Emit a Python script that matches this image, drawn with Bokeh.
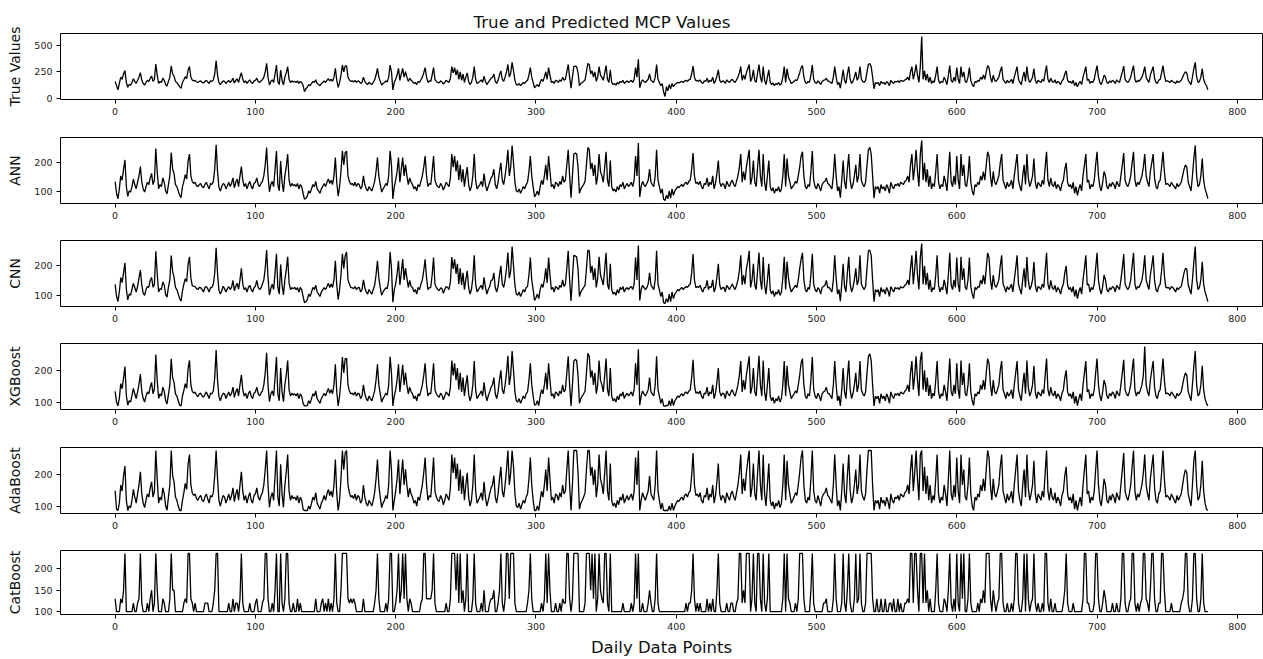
from bokeh.plotting import figure
from bokeh.layouts import column
from bokeh.models import FixedTicker
from bokeh.embed import file_html
from bokeh.resources import INLINE

true_values = [
160,120,80,140,200,180,230,262,150,105,130,125,150,185,160,140,170,200,243,170,
140,125,150,170,160,190,211,160,180,325,220,140,160,150,190,170,130,117,160,200,
306,230,210,160,150,130,110,95,150,175,205,185,268,300,200,173,165,170,155,150,
160,165,150,145,160,170,155,140,165,160,175,230,356,220,148,130,150,165,160,140,
155,170,150,165,190,145,170,185,150,200,243,180,150,165,140,160,175,150,140,165,
170,190,160,150,165,175,200,250,331,200,126,160,175,150,230,315,160,130,268,170,
126,200,243,300,180,150,165,155,160,150,165,140,160,150,120,63,90,104,130,120,
140,160,150,175,140,130,120,140,150,165,150,170,185,165,180,160,200,284,170,104,
150,220,315,250,306,306,200,175,160,165,155,170,150,165,160,140,150,200,160,140,
130,150,140,130,150,175,220,284,200,160,125,140,150,165,155,200,315,250,79,150,
180,220,284,170,230,284,200,252,200,160,190,170,160,140,150,130,160,150,175,200,
240,290,200,150,165,160,220,290,180,160,150,145,165,155,135,150,170,160,150,190,
300,240,290,220,270,180,250,170,230,150,200,240,160,130,150,200,300,180,140,150,
160,175,150,210,160,130,150,170,190,200,230,160,140,170,220,260,180,160,200,250,
320,200,240,340,260,170,130,125,140,120,135,150,140,160,170,220,290,200,150,100,
115,130,110,150,180,160,200,250,180,290,220,150,160,140,170,165,150,175,160,200,
170,180,250,320,200,95,200,300,305,300,240,120,140,150,160,175,250,330,320,230,
260,200,250,160,200,300,220,200,170,240,310,180,150,270,150,130,140,125,150,135,
160,150,170,140,155,165,150,160,170,150,180,290,200,370,100,150,175,160,150,165,
180,230,170,160,150,200,320,180,150,120,140,60,17,110,70,130,90,140,110,130,
140,150,145,155,160,150,165,170,160,175,180,230,305,200,165,170,160,175,150,140,
165,160,190,150,170,160,200,140,165,210,270,170,150,165,160,140,175,160,150,170,
180,160,150,175,200,240,300,170,220,180,240,280,320,160,190,270,170,150,240,320,
200,150,300,170,130,200,270,150,130,145,120,140,130,150,125,140,200,300,150,280,
200,170,140,150,160,175,165,200,240,290,310,200,150,140,160,150,220,315,180,150,
140,165,150,130,160,170,175,190,165,160,150,140,200,300,200,130,150,95,180,270,
170,140,230,300,180,140,160,200,250,170,200,300,180,160,150,170,250,320,330,300,
200,90,150,140,150,120,160,140,150,130,160,145,120,170,150,140,160,155,165,150,
170,165,160,175,180,200,170,250,300,180,240,320,220,150,300,585,180,260,170,230,
150,200,140,165,150,220,300,170,140,160,150,200,170,130,220,310,170,150,200,160,
290,180,140,300,200,250,160,150,200,290,170,130,110,160,150,170,160,200,180,220,
180,250,310,290,200,150,220,170,160,180,200,260,300,180,160,140,170,150,160,180,
140,200,250,300,180,150,130,200,250,160,300,190,150,170,200,280,170,140,170,160,
150,180,160,240,310,180,150,190,160,150,175,140,160,150,130,165,180,230,260,170,
150,160,140,170,120,150,110,140,160,130,200,250,300,170,180,140,160,150,180,250,
310,200,150,130,170,220,200,150,140,165,150,170,160,140,175,160,150,200,250,305,
180,160,150,170,200,260,310,180,150,170,160,180,200,240,300,200,170,150,220,260,
300,190,150,140,170,180,240,310,220,160,165,160,150,170,160,150,140,165,150,160,
170,200,230,250,240,170,150,130,200,280,340,200,150,160,200,280,180,140,120,80]

ann = [
135,95,76,110,155,140,178,210,118,84,103,99,118,144,125,110,133,155,187,133,
110,99,118,133,125,148,163,125,140,249,170,110,125,118,148,133,103,93,125,155,
235,178,163,125,118,103,88,80,118,136,159,144,206,230,155,135,129,133,121,118,
125,129,118,114,125,133,121,110,129,125,136,178,262,170,116,103,118,129,125,110,
121,133,118,129,148,114,133,144,118,155,187,140,118,129,110,125,136,118,110,129,
133,148,125,118,129,136,155,193,253,155,100,125,136,118,178,241,125,103,206,133,
100,155,187,230,140,118,129,121,125,118,129,110,125,118,95,74,78,85,103,95,
110,125,118,136,110,103,95,110,118,129,118,133,144,129,140,125,155,218,133,85,
118,170,241,193,235,240,155,136,125,129,121,133,118,129,125,110,118,155,125,110,
103,118,110,103,118,136,170,218,155,125,99,110,118,129,121,155,241,193,75,118,
140,170,218,133,178,218,155,194,155,125,148,133,125,110,118,103,125,118,136,155,
185,223,155,118,129,125,170,223,140,125,118,114,129,121,106,118,133,125,118,148,
230,185,223,170,208,140,193,133,178,118,155,185,125,103,118,155,230,140,110,118,
125,136,118,163,125,103,118,133,148,155,178,125,110,133,170,200,140,125,155,193,
245,155,185,260,200,133,103,99,110,95,106,118,110,125,133,170,223,155,118,82,
91,103,88,118,140,125,155,193,140,223,170,118,125,110,133,129,118,136,125,155,
133,140,193,245,155,80,155,230,234,230,185,95,110,118,125,136,193,253,245,178,
200,155,193,125,155,230,170,155,133,185,238,140,118,208,118,103,110,99,118,106,
125,118,133,110,121,129,118,125,133,118,140,223,155,268,82,118,136,125,118,129,
140,178,133,125,118,155,245,140,118,95,110,74,70,88,76,103,78,110,88,103,
110,118,114,121,125,118,129,133,125,136,140,178,234,155,129,133,125,136,118,110,
129,125,148,118,133,125,155,110,129,163,208,133,118,129,125,110,136,125,118,133,
140,125,118,136,155,185,230,133,170,140,185,215,245,125,148,208,133,118,185,245,
155,118,230,133,103,155,208,118,103,114,95,110,103,118,99,110,155,230,118,215,
155,133,110,118,125,136,129,155,185,223,238,155,118,110,125,118,170,241,140,118,
110,129,118,103,125,133,136,148,129,125,118,110,155,230,155,103,118,80,140,208,
133,110,178,230,140,110,125,155,193,133,155,230,140,125,118,133,193,245,253,230,
155,78,118,110,118,95,125,110,118,103,125,114,95,133,118,110,125,121,129,118,
133,129,125,136,140,155,133,193,230,140,185,245,170,118,230,277,140,200,133,178,
118,155,110,129,118,170,230,133,110,125,118,155,133,103,170,238,133,118,155,125,
223,140,110,230,155,193,125,118,155,223,133,103,88,125,118,133,125,155,140,170,
140,193,238,223,155,118,170,133,125,140,155,200,230,140,125,110,133,118,125,140,
110,155,193,230,140,118,103,155,193,125,230,148,118,133,155,215,133,110,133,125,
118,140,125,185,238,140,118,148,125,118,136,110,125,118,103,129,140,178,200,133,
118,125,110,133,95,118,88,110,125,103,155,193,230,133,140,110,125,118,140,193,
238,155,118,103,133,170,155,118,110,129,118,133,125,110,136,125,118,155,193,234,
140,125,118,133,155,200,238,140,118,133,125,140,155,185,230,155,133,118,170,200,
230,148,118,110,133,140,185,238,170,125,129,125,118,133,125,118,110,129,118,125,
133,155,178,193,185,133,118,103,155,215,260,155,118,125,155,215,140,110,95,76]

cnn = [
137,98,80,112,160,143,175,208,121,86,105,101,121,140,127,112,130,158,184,135,
108,101,120,130,127,150,160,128,138,246,172,112,123,120,145,135,105,95,128,152,
232,180,160,127,120,105,90,82,116,138,156,146,203,228,158,132,131,130,123,120,
127,126,120,112,127,130,123,112,126,127,138,175,258,172,118,105,116,131,123,112,
123,130,120,127,150,116,131,141,121,152,190,138,120,126,112,127,134,120,112,126,
131,150,127,120,126,138,152,190,250,158,102,123,138,120,175,238,127,105,203,135,
102,152,185,228,142,120,126,123,127,120,126,112,127,120,97,77,80,87,105,97,
112,127,120,134,112,105,97,112,120,126,120,130,141,127,138,127,152,215,135,87,
120,168,238,190,232,244,152,138,127,126,123,130,120,126,127,112,120,152,127,112,
105,120,112,105,120,134,168,215,158,127,101,112,120,126,123,152,244,190,78,120,
138,172,215,135,175,221,152,191,158,127,150,130,127,112,120,105,127,120,138,152,
182,220,158,120,126,127,168,226,138,127,120,116,126,123,108,120,130,127,120,145,
227,188,220,172,205,138,190,135,175,120,152,182,127,105,120,158,233,138,112,120,
127,134,120,160,127,105,120,130,150,152,175,127,112,130,168,198,138,127,152,190,
242,158,182,262,198,135,105,101,112,97,108,120,112,127,130,168,226,152,120,84,
93,105,90,120,138,127,152,190,142,226,168,120,127,112,130,126,120,134,127,152,
130,138,190,248,152,82,158,233,231,228,188,97,112,120,127,134,190,250,248,175,
198,152,190,127,158,228,168,152,135,188,241,138,120,205,120,105,112,101,120,108,
127,120,130,112,123,126,120,127,130,120,138,226,152,265,84,120,134,127,120,126,
138,175,135,127,120,152,248,138,120,97,112,77,74,90,78,105,80,112,90,105,
112,120,116,123,127,120,126,130,127,134,138,175,237,152,126,130,127,134,120,112,
126,127,150,120,130,127,152,112,126,160,205,135,120,126,127,112,134,127,120,130,
138,127,120,134,152,182,233,135,168,138,188,212,248,127,150,205,135,120,182,242,
152,120,227,135,105,152,205,120,105,116,97,112,105,120,101,112,158,228,120,212,
158,130,112,120,127,134,126,152,188,220,241,152,120,112,127,120,168,238,138,120,
112,126,120,105,127,130,134,150,126,127,120,112,152,233,158,105,120,82,138,205,
130,112,175,228,138,112,127,152,190,135,152,233,138,127,120,130,190,248,250,232,
152,80,120,112,120,97,127,112,120,105,127,116,97,130,120,112,127,123,126,120,
130,126,127,134,138,152,135,190,233,138,188,248,168,120,227,272,138,198,135,175,
120,152,112,126,120,168,233,135,112,127,120,152,130,105,168,241,135,120,152,127,
226,138,112,228,152,190,127,120,152,226,130,105,90,127,120,130,127,152,138,168,
138,190,241,226,152,120,168,135,127,138,152,198,233,138,127,112,130,120,127,138,
112,152,190,233,138,120,105,152,190,127,227,150,120,130,152,212,135,112,130,127,
120,138,127,182,241,138,120,150,127,120,134,112,127,120,105,126,138,175,198,135,
120,127,112,130,97,120,90,112,127,105,152,190,233,135,138,112,127,120,138,190,
241,152,120,105,130,168,152,120,112,126,120,130,127,112,134,127,120,152,190,237,
138,127,120,130,152,198,241,138,120,130,127,138,152,182,233,152,135,120,168,198,
233,150,120,112,130,138,182,241,168,127,126,127,120,130,127,120,112,126,120,127,
130,152,175,190,188,135,120,105,152,212,262,152,120,127,152,212,138,112,97,80]

xgboost = [
134,100,88,112,158,142,176,212,120,90,104,100,120,143,126,111,132,156,188,134,
111,100,119,132,126,147,162,126,141,250,168,111,126,119,147,134,104,94,124,154,
236,176,162,126,119,104,90,88,119,137,158,143,205,231,154,134,128,132,122,117,
126,128,119,115,124,132,122,111,128,126,135,177,264,169,117,104,119,128,126,111,
122,132,119,128,147,115,132,143,119,154,186,139,119,128,111,126,135,119,111,128,
132,147,126,119,128,135,154,192,255,154,101,126,135,119,177,242,124,104,207,132,
101,154,186,231,139,119,128,122,126,119,128,111,126,119,96,88,88,89,104,96,
111,126,119,135,111,104,96,111,119,128,119,132,143,128,139,126,154,219,132,88,
119,169,242,192,236,238,154,135,126,128,122,132,119,128,126,111,119,154,126,111,
104,119,111,104,119,135,169,219,154,126,100,111,119,128,122,154,243,192,88,119,
139,169,219,132,177,217,154,193,154,126,147,132,126,111,119,104,126,119,135,154,
184,222,154,119,128,126,169,222,139,126,119,115,128,122,107,119,132,126,119,147,
231,184,222,169,207,139,192,132,177,119,154,184,126,104,119,154,229,139,111,119,
126,135,119,162,126,104,119,132,147,154,177,126,111,132,169,200,139,126,154,192,
246,154,184,261,200,132,104,100,111,96,107,119,111,126,132,169,222,154,119,90,
92,104,89,119,139,126,154,192,139,222,169,119,126,111,132,128,119,135,126,154,
132,139,192,244,154,88,154,229,235,231,184,96,111,119,126,135,192,254,244,177,
200,154,192,126,154,231,169,154,132,184,237,139,119,207,119,104,111,100,119,107,
126,119,132,111,122,128,119,126,132,119,139,222,154,266,90,119,135,126,119,128,
139,177,132,126,119,154,244,139,119,96,111,88,86,90,88,104,88,111,89,104,
111,119,115,122,126,119,128,132,126,135,139,177,233,154,128,132,126,135,119,111,
128,126,147,119,132,126,154,111,128,162,207,132,119,128,126,111,135,126,119,132,
139,126,119,135,154,184,229,132,169,139,184,214,244,126,147,207,132,119,184,246,
154,119,231,132,104,154,207,119,104,115,96,111,104,119,100,111,154,229,119,214,
154,132,111,119,126,135,128,154,184,222,237,154,119,111,126,119,169,242,139,119,
111,128,119,104,126,132,135,147,128,126,119,111,154,229,154,104,119,88,139,207,
132,111,177,231,139,111,126,154,192,132,154,229,139,126,119,132,192,244,252,231,
154,88,119,111,119,96,126,111,119,104,126,115,96,132,119,111,126,122,128,119,
132,128,126,135,139,154,132,192,229,139,184,244,169,119,231,258,139,200,132,177,
119,154,111,128,119,169,229,132,111,126,119,154,132,104,169,237,132,119,154,126,
222,139,111,231,154,192,126,119,154,222,132,104,89,126,119,132,126,154,139,169,
139,192,237,222,154,119,169,132,126,139,154,200,229,139,126,111,132,119,126,139,
111,154,192,229,139,119,104,154,192,126,231,147,119,132,154,214,132,111,132,126,
119,139,126,184,237,139,119,147,126,119,135,111,126,119,104,128,139,177,200,132,
119,126,111,132,96,119,89,111,126,104,154,192,229,132,139,111,126,119,139,192,
237,154,119,104,132,169,154,119,111,128,119,132,126,111,135,126,119,154,192,233,
139,126,119,132,154,200,237,139,119,132,126,139,154,184,275,154,132,119,169,200,
229,147,119,111,132,139,184,237,169,126,128,126,119,132,126,119,111,128,119,126,
132,154,177,192,184,132,119,104,154,214,261,154,119,126,154,214,139,111,96,88]

adaboost = [
150,92,88,111,168,149,197,227,120,88,102,97,120,154,130,111,140,168,209,140,
111,97,120,140,130,159,178,130,149,276,187,111,130,120,159,140,102,89,130,168,
276,197,178,130,120,102,88,88,120,144,173,154,233,263,168,142,135,140,125,120,
130,135,120,116,130,140,125,111,135,130,144,197,276,187,119,102,120,135,130,111,
125,140,120,135,159,116,140,154,120,168,209,149,120,135,111,130,144,120,111,135,
140,159,130,120,135,144,168,216,276,168,98,130,144,120,197,276,130,102,233,140,
98,168,209,263,149,120,135,125,130,120,135,111,130,120,92,88,88,88,102,92,
111,130,120,144,111,102,92,111,120,135,120,140,154,135,149,130,168,248,140,88,
120,187,276,216,269,276,168,144,130,135,125,140,120,135,130,111,120,168,130,111,
102,120,111,102,120,144,187,248,168,130,97,111,120,135,125,168,276,216,88,120,
149,187,248,140,197,248,168,217,168,130,159,140,130,111,120,102,130,120,144,168,
206,254,168,120,135,130,187,254,149,130,120,116,135,125,106,120,140,130,120,159,
263,206,254,187,235,149,216,140,197,120,168,206,130,102,120,168,263,149,111,120,
130,144,120,178,130,102,120,140,159,168,197,130,111,140,187,225,149,130,168,216,
276,168,206,276,225,140,102,97,111,92,106,120,111,130,140,187,254,168,120,88,
88,102,88,120,149,130,168,216,149,254,187,120,130,111,140,135,120,144,130,168,
140,149,216,276,168,88,168,276,276,276,206,92,111,120,130,144,216,276,276,197,
225,168,216,130,168,263,187,168,140,206,276,149,120,235,120,102,111,97,120,106,
130,120,140,111,125,135,120,130,140,120,149,254,168,276,88,120,144,130,120,135,
149,197,140,130,120,168,276,149,120,92,111,88,88,88,88,102,88,111,88,102,
111,120,116,125,130,120,135,140,130,144,149,197,268,168,135,140,130,144,120,111,
135,130,159,120,140,130,168,111,135,178,235,140,120,135,130,111,144,130,120,140,
149,130,120,144,168,206,263,140,187,149,206,244,276,130,159,235,140,120,206,276,
168,120,263,140,102,168,235,120,102,116,92,111,102,120,97,111,168,263,120,244,
168,140,111,120,130,144,135,168,206,254,276,168,120,111,130,120,187,276,149,120,
111,135,120,102,130,140,144,159,135,130,120,111,168,263,168,102,120,88,149,235,
140,111,197,263,149,111,130,168,216,140,168,263,149,130,120,140,216,276,276,276,
168,88,120,111,120,92,130,111,120,102,130,116,92,140,120,111,130,125,135,120,
140,135,130,144,149,168,140,216,263,149,206,276,187,120,263,276,149,225,140,197,
120,168,111,135,120,187,263,140,111,130,120,168,140,102,187,276,140,120,168,130,
254,149,111,263,168,216,130,120,168,254,140,102,88,130,120,140,130,168,149,187,
149,216,276,254,168,120,187,140,130,149,168,225,263,149,130,111,140,120,130,149,
111,168,216,263,149,120,102,168,216,130,263,159,120,140,168,244,140,111,140,130,
120,149,130,206,276,149,120,159,130,120,144,111,130,120,102,135,149,197,225,140,
120,130,111,140,92,120,88,111,130,102,168,216,263,140,149,111,130,120,149,216,
276,168,120,102,140,187,168,120,111,135,120,140,130,111,144,130,120,168,216,268,
149,130,120,140,168,225,276,149,120,140,130,149,168,206,263,168,140,120,187,225,
263,159,120,111,140,149,206,276,187,130,135,130,120,140,130,120,111,135,120,130,
140,168,197,216,206,140,120,102,168,244,276,168,120,130,168,244,149,111,92,88]

catboost = [
130,100,100,100,130,120,150,236,100,100,100,100,100,120,100,100,120,130,236,120,
100,100,100,120,100,130,150,100,120,236,150,100,100,100,130,120,100,100,100,130,
236,150,150,100,100,100,100,100,100,120,130,120,236,236,130,120,100,120,100,100,
100,100,100,100,120,120,120,100,100,100,120,150,236,236,100,100,100,100,100,100,
100,120,100,100,130,100,120,120,100,130,236,120,100,100,100,100,120,100,100,100,
120,130,100,100,100,120,130,236,236,130,100,100,120,100,150,236,100,100,236,120,
100,130,236,236,120,100,100,120,100,100,130,100,120,100,100,100,100,100,100,100,
100,100,100,130,100,100,100,120,130,100,120,100,130,100,120,100,130,236,120,100,
100,150,236,236,236,236,130,120,130,120,130,120,100,100,100,100,100,130,100,100,
100,100,100,100,100,120,150,236,130,100,100,100,100,120,100,130,236,236,100,100,
120,150,236,120,150,236,130,236,130,100,130,120,100,100,100,100,100,100,120,130,
236,236,130,130,130,130,150,236,120,100,100,100,100,100,100,100,120,100,100,130,
236,236,236,150,236,120,236,120,150,100,130,236,100,100,100,130,236,120,100,100,
100,120,100,150,100,100,100,120,130,130,150,100,100,120,150,236,120,100,130,236,
236,130,236,236,236,120,100,100,100,100,100,100,100,100,120,150,236,130,100,100,
100,100,100,100,120,100,130,236,120,236,150,100,100,100,120,100,100,120,100,130,
120,120,236,236,130,100,130,236,236,236,236,100,100,100,100,120,236,236,236,150,
236,130,236,100,130,236,150,130,120,236,236,120,100,236,100,100,100,100,100,100,
100,100,120,100,100,100,100,100,120,100,120,236,130,236,100,100,120,100,100,100,
120,150,120,100,100,130,236,120,100,100,100,100,100,100,100,100,100,100,100,100,
100,100,100,100,100,100,100,120,100,120,120,150,236,130,100,120,100,120,100,100,
100,100,130,100,120,100,130,100,100,150,236,120,100,100,100,100,120,100,100,120,
120,100,100,120,130,236,236,120,150,120,236,236,236,100,130,236,120,100,236,236,
130,100,236,120,100,130,236,100,100,100,100,100,100,100,100,100,130,236,100,236,
130,120,100,100,100,120,100,130,236,236,236,130,100,100,100,100,150,236,120,100,
100,100,100,100,100,120,120,130,100,100,100,100,130,236,130,100,100,100,120,236,
120,100,150,236,120,100,100,130,236,120,130,236,120,100,100,120,236,236,236,236,
130,100,100,130,100,100,130,100,100,130,100,100,120,120,100,130,100,100,130,100,
120,100,100,120,120,130,120,236,236,120,236,236,150,100,236,236,120,236,120,150,
100,130,100,100,100,150,236,120,100,100,100,130,120,100,150,236,120,100,130,100,
236,120,100,236,130,236,100,100,130,236,120,100,100,100,100,120,100,130,120,150,
120,236,236,236,130,100,150,120,100,120,130,236,236,120,100,100,120,100,100,120,
100,130,236,236,120,100,100,130,236,100,236,130,100,120,130,236,120,100,120,100,
100,120,100,236,236,120,100,130,100,100,120,100,100,100,100,100,120,150,236,120,
100,100,100,120,100,100,100,100,100,100,130,236,236,120,120,100,100,100,120,236,
236,130,100,100,120,150,130,100,100,100,100,120,100,100,120,100,100,130,236,236,
120,100,100,120,130,236,236,120,100,120,100,120,130,236,236,130,120,100,150,236,
236,130,100,100,120,120,236,236,150,100,100,100,100,120,100,100,100,100,100,100,
120,130,150,236,236,120,100,100,130,236,236,130,100,100,130,236,120,100,100,100]

days = list(range(len(true_values)))

panels = [
    ("True Values", true_values, [0, 250, 500]),
    ("ANN", ann, [100, 200]),
    ("CNN", cnn, [100, 200]),
    ("XGBoost", xgboost, [100, 200]),
    ("AdaBoost", adaboost, [100, 200]),
    ("CatBoost", catboost, [100, 150, 200]),
]

FONT = "DejaVu Sans"
LEFT = 60
FRAME_W = 1202
FRAME_H = 66
tops = [33, 10, 10, 10, 10, 10]
bottoms = [28, 27, 27, 28, 27, 43]

figs = []
for i, (label, vals, yticks) in enumerate(panels):
    p = figure(width=LEFT + FRAME_W + 1, height=tops[i] + FRAME_H + bottoms[i],
               output_backend="svg", toolbar_location=None,
               min_border_left=LEFT, min_border_right=1,
               min_border_top=tops[i], min_border_bottom=bottoms[i])
    p.line(days, vals, line_color="black", line_width=1.3)
    p.xgrid.visible = False
    p.ygrid.visible = False
    p.outline_line_color = "black"
    p.outline_line_width = 1
    p.outline_line_alpha = 1
    p.background_fill_color = "white"
    p.border_fill_color = "white"

    p.xaxis.ticker = FixedTicker(ticks=[0, 100, 200, 300, 400, 500, 600, 700, 800])
    p.yaxis.ticker = FixedTicker(ticks=yticks)
    for ax in (p.xaxis[0], p.yaxis[0]):
        ax.axis_line_color = None
        ax.major_tick_line_color = "black"
        ax.major_tick_out = 4
        ax.major_tick_in = 0
        ax.minor_tick_line_color = None
        ax.major_label_text_font = FONT
        ax.major_label_text_font_size = "9.5px"
        ax.major_label_text_color = "#222222"
        ax.major_label_standoff = 4
    p.yaxis.axis_label = label
    p.yaxis.axis_label_text_font = FONT
    p.yaxis.axis_label_text_font_size = "14px"
    p.yaxis.axis_label_text_font_style = "normal"
    p.yaxis.axis_label_text_color = "#111111"
    p.yaxis.axis_label_standoff = 8

    if i == 0:
        p.title.text = "True and Predicted MCP Values"
        p.title.text_font = FONT
        p.title.text_font_size = "16.7px"
        p.title.text_font_style = "normal"
        p.title.text_color = "#111111"
        p.title.align = "left"
        p.title.offset = 413
        p.title.standoff = 4
    if i == len(panels) - 1:
        p.xaxis.axis_label = "Daily Data Points"
        p.xaxis.axis_label_text_font = FONT
        p.xaxis.axis_label_text_font_size = "16.5px"
        p.xaxis.axis_label_text_font_style = "normal"
        p.xaxis.axis_label_text_color = "#111111"
        p.xaxis.axis_label_standoff = 5
    figs.append(p)

layout = column(*figs, spacing=0)
open("out.html", "w").write(file_html(layout, INLINE))
